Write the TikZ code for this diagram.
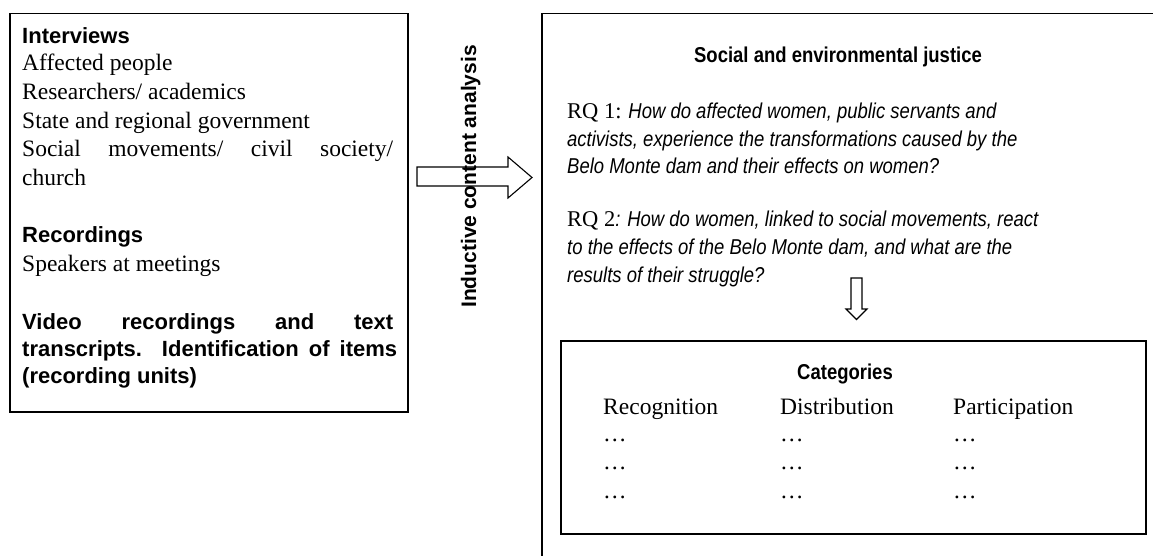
\documentclass[tikz,border=0pt]{standalone}
\usepackage{fontspec}
\setmainfont{Liberation Serif}
\newfontfamily\lsans{Liberation Sans}
\newfontfamily\csans[FakeStretch=0.86]{Liberation Sans}
\begin{document}
\begin{tikzpicture}[x=1pt,y=-1pt,
  txt/.style={inner sep=0pt, anchor=base west},
  serif/.style={font=\fontsize{23.5}{28}\selectfont},
  bsans/.style={font=\lsans\bfseries\fontsize{22}{26}\selectfont},
  csansb/.style={font=\csans\bfseries\fontsize{21.5}{25}\selectfont},
  rq/.style={font=\csans\itshape\fontsize{21.5}{25}\selectfont},
  boxline/.style={draw=black, line width=1.5pt, inner sep=0pt, fill=none},
  blockarrow/.style={draw=black, line width=1.1pt, fill=white, line join=miter}
]
\useasboundingbox (0,0) rectangle (1153,556);
\clip (0,0) rectangle (1153,556);

% left box
\node[boxline, anchor=north west, minimum width=398pt, minimum height=398pt] (lbox) at (9,13) {};
\node[txt,bsans] (iv) at (22,43.3) {Interviews};
\node[txt,serif] (l1) at (22,70.9) {Affected people};
\node[txt,serif] (l2) at (22,99.5) {Researchers/ academics};
\node[txt,serif] (l3) at (22,128.1) {State and regional government};
\node[txt,serif] (l4) at (22,156.7) {\makebox[371pt][s]{Social movements/ civil society/}};
\node[txt,serif] (l5) at (22,185.5) {church};
\node[txt,bsans] (rec) at (22,242.7) {Recordings};
\node[txt,serif] (l6) at (22,271.5) {Speakers at meetings};
\node[txt,bsans] (v1) at (22,329.5) {\makebox[371pt][s]{Video recordings and text}};
\node[txt,bsans] (v2) at (22,356.8) {\makebox[375pt][s]{transcripts. Identification of items}};
\node[txt,bsans] (v3) at (22,383.5) {(recording units)};

% big right box (cut by the picture edge)
\node[boxline, anchor=north west, minimum width=640pt, minimum height=580pt] (rbox) at (541,13) {};

% horizontal block arrow
\draw[blockarrow] (417,167) -- (508,167) -- (508,157) -- (532,177.5) -- (508,198) -- (508,186) -- (417,186) -- cycle;
\node[inner sep=0pt, anchor=base, rotate=90, font=\lsans\bfseries\fontsize{21}{25}\selectfont] (ica) at (476,176.5) {Inductive content analysis};

% right text
\node[inner sep=0pt, anchor=base, csansb] (title) at (838,63) {Social and environmental justice};
\node[txt,rq] (q1) at (567,119) {{\rmfamily\upshape\fontsize{22.5}{25}\selectfont RQ 1:} How do affected women, public servants and};
\node[txt,rq] (q2) at (567,146.5) {activists, experience the transformations caused by the};
\node[txt,rq] (q3) at (567,174) {Belo Monte dam and their effects on women?};
\node[txt,rq] (q4) at (567,226.5) {{\rmfamily\upshape\fontsize{22.5}{25}\selectfont RQ 2}: How do women, linked to social movements, react};
\node[txt,rq] (q5) at (567,254.5) {to the effects of the Belo Monte dam, and what are the};
\node[txt,rq] (q6) at (567,282.5) {results of their struggle?};

% down block arrow
\draw[blockarrow] (851,278) -- (862,278) -- (862,309) -- (867,309) -- (856.5,319.5) -- (846,309) -- (851,309) -- cycle;

% categories box
\node[boxline, anchor=north west, minimum width=585pt, minimum height=193pt] (cbox) at (560,340) {};
\node[inner sep=0pt, anchor=base, csansb] (cat) at (845,379) {Categories};
\node[txt,serif] (c1) at (603,414) {Recognition};
\node[txt,serif] (c2) at (780,414) {Distribution};
\node[txt,serif] (c3) at (953,414) {Participation};
\foreach \y [count=\i] in {441,469,498}{
  \node[txt,serif] (a\i) at (603,\y) {…};
  \node[txt,serif] (b\i) at (780,\y) {…};
  \node[txt,serif] (d\i) at (953,\y) {…};
}
\end{tikzpicture}
\end{document}
